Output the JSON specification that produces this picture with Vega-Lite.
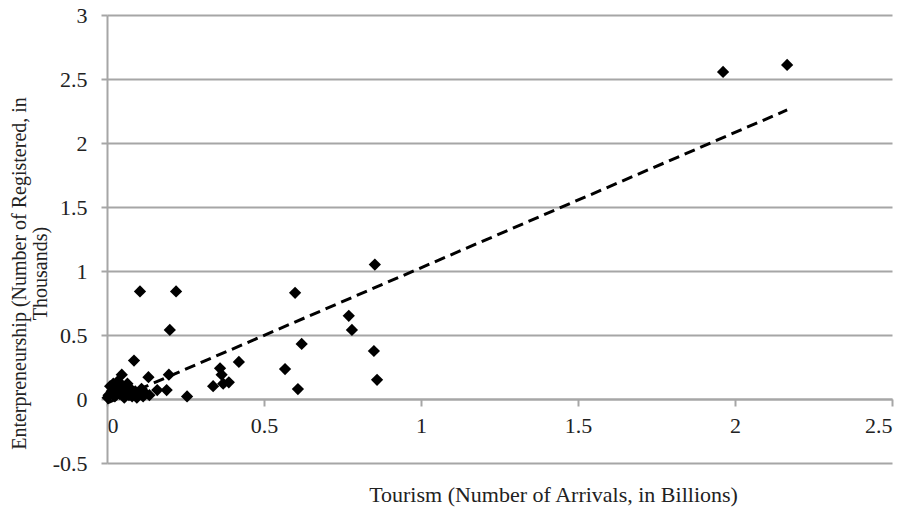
{
  "$schema": "https://vega.github.io/schema/vega-lite/v6.json",
  "width": 785,
  "height": 448,
  "autosize": {"type": "none"},
  "padding": {"left": 107, "top": 15, "right": 22, "bottom": 44},
  "background": "white",
  "config": {"view": {"stroke": null}, "font": "Liberation Serif"},
  "datasets": {
    "points": [
      {"tourism": 0.002, "entre": 0.01}, {"tourism": 0.005, "entre": 0.03}, {"tourism": 0.01, "entre": 0.10},
      {"tourism": 0.015, "entre": 0.06}, {"tourism": 0.02, "entre": 0.12}, {"tourism": 0.025, "entre": 0.02},
      {"tourism": 0.03, "entre": 0.08}, {"tourism": 0.035, "entre": 0.14}, {"tourism": 0.04, "entre": 0.04},
      {"tourism": 0.047, "entre": 0.19}, {"tourism": 0.05, "entre": 0.10}, {"tourism": 0.055, "entre": 0.01},
      {"tourism": 0.06, "entre": 0.05}, {"tourism": 0.065, "entre": 0.12}, {"tourism": 0.07, "entre": 0.03},
      {"tourism": 0.075, "entre": 0.08}, {"tourism": 0.08, "entre": 0.02}, {"tourism": 0.086, "entre": 0.30},
      {"tourism": 0.09, "entre": 0.06}, {"tourism": 0.095, "entre": 0.01}, {"tourism": 0.1, "entre": 0.04},
      {"tourism": 0.105, "entre": 0.84}, {"tourism": 0.11, "entre": 0.08}, {"tourism": 0.115, "entre": 0.02},
      {"tourism": 0.12, "entre": 0.05}, {"tourism": 0.132, "entre": 0.17}, {"tourism": 0.135, "entre": 0.03},
      {"tourism": 0.16, "entre": 0.07}, {"tourism": 0.19, "entre": 0.07}, {"tourism": 0.197, "entre": 0.19},
      {"tourism": 0.2, "entre": 0.54}, {"tourism": 0.22, "entre": 0.84}, {"tourism": 0.255, "entre": 0.02},
      {"tourism": 0.338, "entre": 0.10}, {"tourism": 0.36, "entre": 0.24}, {"tourism": 0.365, "entre": 0.19},
      {"tourism": 0.37, "entre": 0.12}, {"tourism": 0.388, "entre": 0.13}, {"tourism": 0.42, "entre": 0.29},
      {"tourism": 0.567, "entre": 0.234}, {"tourism": 0.599, "entre": 0.83}, {"tourism": 0.608, "entre": 0.078},
      {"tourism": 0.62, "entre": 0.43}, {"tourism": 0.77, "entre": 0.65}, {"tourism": 0.78, "entre": 0.54},
      {"tourism": 0.85, "entre": 0.375}, {"tourism": 0.853, "entre": 1.05}, {"tourism": 0.86, "entre": 0.15},
      {"tourism": 1.962, "entre": 2.555}, {"tourism": 2.166, "entre": 2.61}
    ],
    "trend": [
      {"tourism": 0.0, "entre": -0.032},
      {"tourism": 2.166, "entre": 2.258}
    ]
  },
  "layer": [
    {
      "data": {"name": "trend"},
      "mark": {"type": "line", "color": "black", "strokeWidth": 3, "strokeDash": [11, 6]},
      "encoding": {
        "x": {"field": "tourism", "type": "quantitative", "scale": {"domain": [0, 2.5], "nice": false, "zero": false}},
        "y": {"field": "entre", "type": "quantitative", "scale": {"domain": [-0.5, 3], "nice": false, "zero": false}}
      }
    },
    {
      "data": {"name": "points"},
      "mark": {"type": "point", "shape": "diamond", "filled": true, "color": "black", "size": 150, "opacity": 1},
      "encoding": {
        "x": {
          "field": "tourism", "type": "quantitative",
          "scale": {"domain": [0, 2.5], "nice": false, "zero": false},
          "axis": {
            "title": "Tourism (Number of Arrivals, in Billions)",
            "values": [0, 0.5, 1, 1.5, 2, 2.5],
            "labelExpr": "'' + datum.value",
            "offset": -64,
            "grid": false,
            "domainColor": "#a6a6a6", "domainWidth": 2,
            "tickColor": "#a6a6a6", "tickWidth": 2, "tickSize": 7,
            "labelFontSize": 22, "labelPadding": 9, "labelColor": "#222222",
            "labelFont": "Liberation Serif",
            "titleFont": "Liberation Serif", "titleFontSize": 22, "titleFontWeight": "normal",
            "titleColor": "#222222", "titleX": 446, "titleY": 95, "titleBaseline": "middle"
          }
        },
        "y": {
          "field": "entre", "type": "quantitative",
          "scale": {"domain": [-0.5, 3], "nice": false, "zero": false},
          "axis": {
            "title": ["Enterpreneurship (Number of Registered, in", "Thousands)"],
            "values": [-0.5, 0, 0.5, 1, 1.5, 2, 2.5, 3],
            "labelExpr": "'' + datum.value",
            "grid": true, "gridColor": "#a6a6a6", "gridWidth": 2,
            "domainColor": "#a6a6a6", "domainWidth": 2,
            "tickColor": "#a6a6a6", "tickWidth": 2, "tickSize": 6,
            "labelFontSize": 22, "labelPadding": 14, "labelColor": "#222222",
            "labelFont": "Liberation Serif",
            "titleFont": "Liberation Serif", "titleFontSize": 20, "titleFontWeight": "normal",
            "titleColor": "#222222", "titleX": -88, "titleY": 258, "titleBaseline": "middle",
            "titleLineHeight": 21
          }
        }
      }
    }
  ]
}
